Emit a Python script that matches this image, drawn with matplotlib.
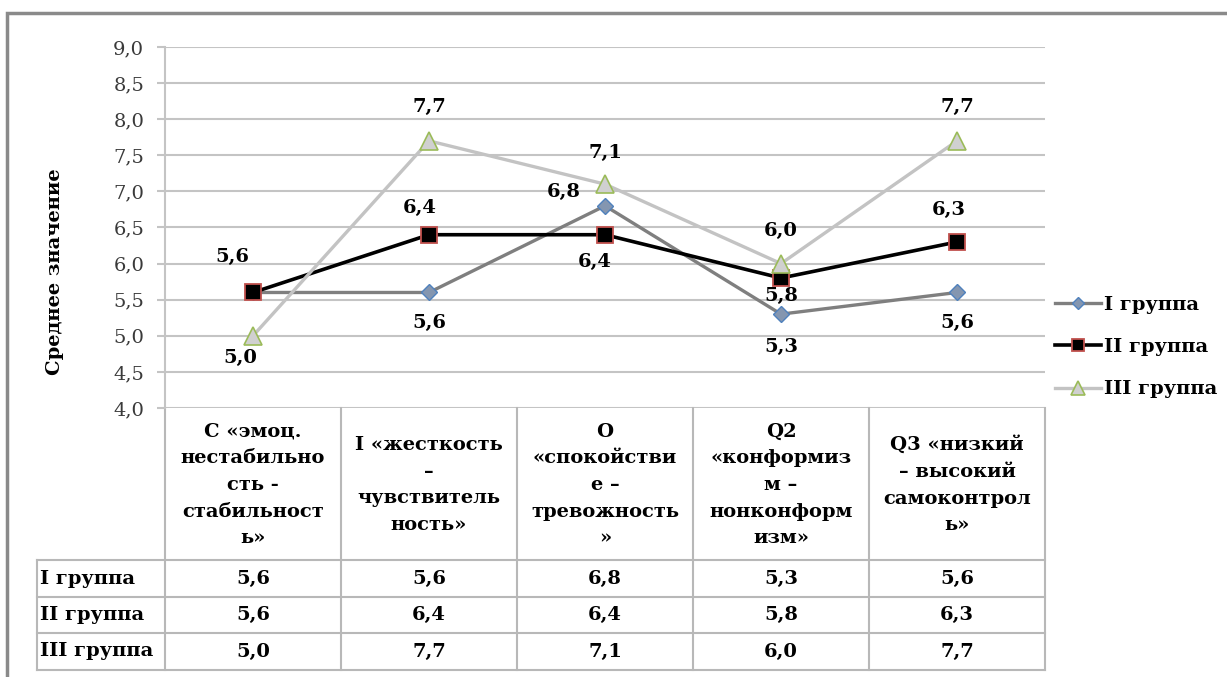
import matplotlib.pyplot as plt
from matplotlib.transforms import blended_transform_factory
from matplotlib.patches import Rectangle

# ---- data ----
categories = [
    "С «эмоц.\nнестабильно\nсть -\nстабильност\nь»",
    "I «жесткость\n–\nчувствитель\nность»",
    "О\n«спокойстви\nе –\nтревожность\n»",
    "Q2\n«конформиз\nм –\nнонконформ\nизм»",
    "Q3 «низкий\n– высокий\nсамоконтрол\nь»",
]
group_names = ["I группа", "II группа", "III группа"]
group1 = [5.6, 5.6, 6.8, 5.3, 5.6]
group2 = [5.6, 6.4, 6.4, 5.8, 6.3]
group3 = [5.0, 7.7, 7.1, 6.0, 7.7]
yticks = [4.0, 4.5, 5.0, 5.5, 6.0, 6.5, 7.0, 7.5, 8.0, 8.5, 9.0]

W, H = 1227, 677
plt.rcParams['font.family'] = ['DejaVu Serif']

fig = plt.figure(figsize=(W / 100, H / 100), dpi=100)


def fx(px):
    return px / W


def fy(py):
    return 1 - py / H


ax = fig.add_axes([fx(165), fy(408), fx(1045) - fx(165), fy(47) - fy(408)])
x = list(range(len(categories)))

styles = [
    dict(color='#7f7f7f', lw=2.4, marker='D', ms=8, mfc='#8496b0', mec='#4f81bd', mew=1),
    dict(color='#000000', lw=2.6, marker='s', ms=12, mfc='#000000', mec='#c0504d', mew=1.3),
    dict(color='#c3c3c3', lw=2.4, marker='^', ms=13, mfc='#d0d0d0', mec='#9bbb59', mew=1.2),
]
series = [group1, group2, group3]
for vals, st, name in zip(series, styles, group_names):
    ax.plot(x, vals, label=name, zorder=3, **st)

fs = 14

# data label offsets in pixels (dx, dy); None = label hidden in the original
offsets = [
    [None, (0, -31), (-41, 14), (0, -33), (0, -31)],
    [(-21, 35), (-9, 27), (-10, -27), (0, -18), (-8, 32)],
    [(-13, -22), (0, 34), (0, 31), (0, 33), (0, 34)],
]
for vals, offs in zip(series, offsets):
    for i, (v, o) in enumerate(zip(vals, offs)):
        if o is None:
            continue
        ax.annotate(f'{v:.1f}'.replace('.', ','), (i, v),
                    xytext=(o[0] * 0.72, o[1] * 0.72), textcoords='offset points',
                    ha='center', va='center', fontsize=fs, fontweight='bold', zorder=4)

ax.set_xlim(-0.5, len(categories) - 0.5)
ax.set_ylim(4.0, 9.0)
ax.set_yticks(yticks)
ax.set_yticklabels([f'{t:.1f}'.replace('.', ',') for t in yticks], fontsize=fs, color='#3a3a3a')
ax.set_xticks([])
ax.grid(True, axis='y', color='#c4c4c4', lw=1.5)
ax.set_axisbelow(True)
for s in ['top', 'right', 'bottom']:
    ax.spines[s].set_visible(False)
ax.spines['left'].set_color('#c4c4c4')
ax.spines['left'].set_linewidth(1.5)
ax.tick_params(axis='y', length=6, width=1.5, color='#c4c4c4', pad=9)

# ---- data table below the plot ----
tcol = blended_transform_factory(ax.transData, fig.transFigure)
line_c = '#b8b8b8'
row_y = [560, 597, 633, 670]
for yy in row_y:
    fig.add_artist(plt.Line2D([fx(37), fx(1045)], [fy(yy), fy(yy)], color=line_c, lw=1.5))
fig.add_artist(plt.Line2D([fx(37), fx(37)], [fy(560), fy(670)], color=line_c, lw=1.5))
for b in range(len(categories) + 1):
    ax.add_line(plt.Line2D([b - 0.5, b - 0.5], [fy(408), fy(670)], transform=tcol,
                           color=line_c, lw=1.5, clip_on=False))

for i, cat in enumerate(categories):
    ax.text(i, fy(485), cat, transform=tcol, ha='center', va='center',
            fontsize=fs, fontweight='bold', linespacing=1.62)

for r, (vals, name) in enumerate(zip(series, group_names)):
    yc = fy((row_y[r] + row_y[r + 1]) / 2)
    fig.text(fx(40), yc, name, ha='left', va='center', fontsize=fs, fontweight='bold')
    for i, v in enumerate(vals):
        ax.text(i, yc, f'{v:.1f}'.replace('.', ','), transform=tcol,
                ha='center', va='center', fontsize=fs, fontweight='bold')

fig.text(fx(55), fy(272), 'Среднее значение', rotation=90, ha='center', va='center',
         fontsize=fs, fontweight='bold')

fig.legend(loc='center left', bbox_to_anchor=(fx(1047), fy(347)), frameon=False,
           prop={'weight': 'bold', 'size': fs}, handlelength=2.4, markerscale=0.75,
           handletextpad=0.15, labelspacing=1.25, borderaxespad=0)

# outer chart border
fig.add_artist(Rectangle((fx(7), fy(690)), fx(1240) - fx(7), fy(13) - fy(690),
                         transform=fig.transFigure, fill=False, ec='#8a8a8a', lw=2.5))

fig.savefig('out.png', dpi=100)
